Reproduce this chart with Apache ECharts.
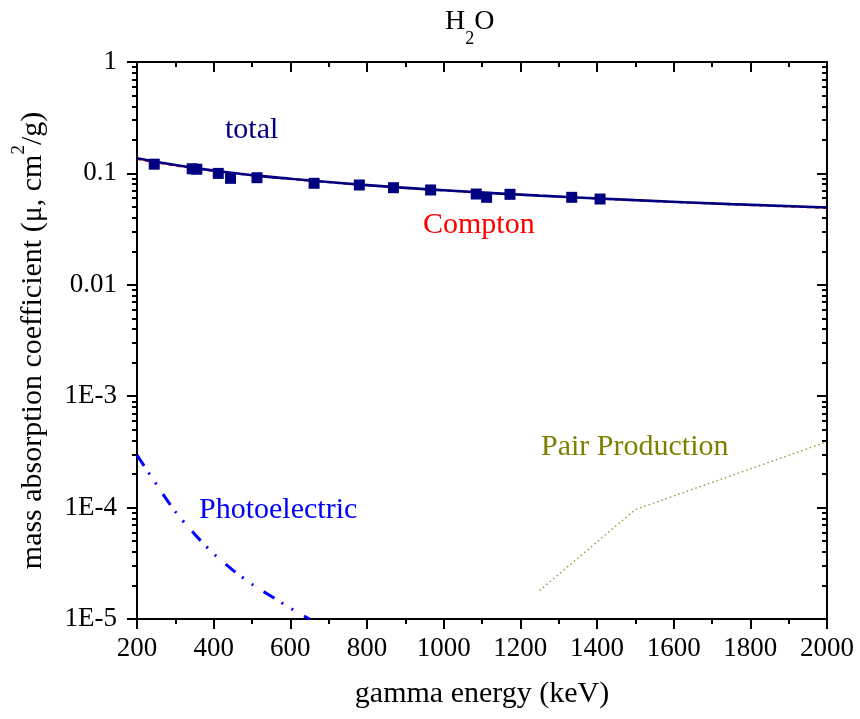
<!DOCTYPE html>
<html><head><meta charset="utf-8">
<script src="https://cdn.jsdelivr.net/npm/echarts@6/dist/echarts.min.js"></script>
<style>html,body{margin:0;padding:0;background:#fff}#c{width:860px;height:719px}</style>
</head><body><div id="c"></div>
<script>
// ---- data ----
const totalEnergy = [200, 300, 400, 500, 600, 800, 1000, 1250, 1500, 1750, 2000];
const totalValues = [0.137, 0.119, 0.106, 0.0965, 0.0895, 0.0785, 0.0705, 0.0632, 0.0575, 0.0530, 0.0494];
const comptonEnergy = [200, 300, 400, 500, 600, 800, 1000, 1250, 1500, 1750, 2000];
const comptonValues = [0.1345, 0.1175, 0.1053, 0.0961, 0.0891, 0.0783, 0.0704, 0.0631, 0.0573, 0.0527, 0.0490];
const photoEnergy = [200, 250, 300, 350, 400, 450, 500, 550, 600, 650];
const photoValues = [2.96e-4, 1.63e-4, 9.2e-5, 5.8e-5, 3.85e-5, 2.75e-5, 2.05e-5, 1.6e-5, 1.25e-5, 1.0e-5];
const pairEnergy = [1250, 1500, 2000];
const pairValues = [1.8e-5, 9.6e-5, 3.9e-4];
const measEnergy = [245, 344, 356, 412, 444, 513, 662, 780, 869, 966, 1085, 1112, 1173, 1334, 1408];
const measValues = [0.121, 0.110, 0.109, 0.100, 0.0903, 0.0915, 0.0815, 0.0787, 0.0744, 0.0710, 0.0653, 0.0610, 0.0649, 0.0610, 0.0589];
const xTickValues = [200, 400, 600, 800, 1000, 1200, 1400, 1600, 1800, 2000];
const xTickLabels = ['200', '400', '600', '800', '1000', '1200', '1400', '1600', '1800', '2000'];
const xMinorValues = [300, 500, 700, 900, 1100, 1300, 1500, 1700, 1900];
const yTickLabels = ['1E-5', '1E-4', '1E-3', '0.01', '0.1', '1'];
const yMajorValues = [1e-5, 1e-4, 1e-3, 1e-2, 1e-1, 1];
const yMinorValues = [];
for (let e = -5; e < 0; e++) for (let m = 2; m <= 9; m++) yMinorValues.push(+(m * Math.pow(10, e)).toPrecision(3));

const zip = (a, b) => a.map((v, i) => [v, b[i]]);
const FONT = 'Liberation Serif';
const AX = { color: '#000', width: 2 };

const chart = echarts.init(document.getElementById('c'));
const xBase = { type: 'value', min: 200, max: 2000, interval: 200, splitLine: { show: false } };
const yBase = { type: 'log', logBase: 10, min: 1e-5, max: 1, splitLine: { show: false } };

chart.setOption({
  animation: false,
  backgroundColor: '#fff',
  grid: { left: 137, right: 33, top: 62, bottom: 100, containLabel: false },
  xAxis: [
    Object.assign({}, xBase, {
      position: 'bottom',
      name: 'gamma energy (keV)', nameLocation: 'middle', nameGap: 60,
      nameTextStyle: { fontFamily: FONT, fontSize: 30, color: '#000' },
      axisLine: { show: true, lineStyle: AX },
      axisTick: { show: true, length: 10, lineStyle: AX, customValues: xTickValues },
      axisLabel: { show: true, margin: 16, fontFamily: FONT, fontSize: 27, color: '#000', customValues: xTickValues,
        formatter: v => xTickLabels[xTickValues.indexOf(Math.round(v))] }
    }),
    Object.assign({}, xBase, {
      position: 'top',
      axisLine: { show: true, lineStyle: AX },
      axisTick: { show: true, inside: true, length: 10, lineStyle: AX, customValues: xTickValues },
      axisLabel: { show: false }
    }),
    Object.assign({}, xBase, {
      position: 'bottom',
      axisLine: { show: false },
      axisTick: { show: true, length: 5, lineStyle: AX, customValues: xMinorValues },
      axisLabel: { show: false }
    }),
    Object.assign({}, xBase, {
      position: 'top',
      axisLine: { show: false },
      axisTick: { show: true, inside: true, length: 5, lineStyle: AX, customValues: xMinorValues },
      axisLabel: { show: false }
    })
  ],
  yAxis: [
    Object.assign({}, yBase, {
      position: 'left',
      name: '{n|mass absorption coefficient (\u03bc, cm}{s|2}{n|/g)}',
      nameLocation: 'middle', nameRotate: 90, nameGap: 89,
      nameTextStyle: {
        color: '#000',
        rich: {
          n: { fontFamily: FONT, fontSize: 30, height: 30, lineHeight: 38, verticalAlign: 'bottom', color: '#000' },
          s: { fontFamily: FONT, fontSize: 19, height: 19, lineHeight: 38, verticalAlign: 'top', color: '#000' }
        }
      },
      axisLine: { show: true, lineStyle: AX },
      axisTick: { show: true, length: 10, lineStyle: AX, customValues: yMajorValues },
      axisLabel: {
        show: true, margin: 20, fontFamily: FONT, fontSize: 27, color: '#000',
        customValues: yMajorValues,
        formatter: v => yTickLabels[Math.round(Math.log10(v)) + 5]
      }
    }),
    Object.assign({}, yBase, {
      position: 'right',
      axisLine: { show: true, lineStyle: AX },
      axisTick: { show: true, inside: true, length: 10, lineStyle: AX, customValues: yMajorValues },
      axisLabel: { show: false }
    }),
    Object.assign({}, yBase, {
      position: 'left',
      axisLine: { show: false },
      axisTick: { show: true, length: 5, lineStyle: AX, customValues: yMinorValues },
      axisLabel: { show: false }
    }),
    Object.assign({}, yBase, {
      position: 'right',
      axisLine: { show: false },
      axisTick: { show: true, inside: true, length: 5, lineStyle: AX, customValues: yMinorValues },
      axisLabel: { show: false }
    })
  ],
  graphic: [
    { type: 'text', left: 445, top: 8, z: 100,
      style: { text: '{a|H}{b|2}{a|O}', fill: '#000',
        rich: {
          a: { fontFamily: FONT, fontSize: 28, height: 28, lineHeight: 40, verticalAlign: 'top', fill: '#000' },
          b: { fontFamily: FONT, fontSize: 18, height: 18, lineHeight: 40, verticalAlign: 'bottom', fill: '#000' }
        } } },
    { type: 'text', x: 225, y: 130, z: 100, style: { text: 'total', fill: '#000080', font: '30px "Liberation Serif"', verticalAlign: 'middle' } },
    { type: 'text', x: 423, y: 225, z: 100, style: { text: 'Compton', fill: '#ff0000', font: '30px "Liberation Serif"', verticalAlign: 'middle' } },
    { type: 'text', x: 199, y: 510, z: 100, style: { text: 'Photoelectric', fill: '#0000ff', font: '30px "Liberation Serif"', verticalAlign: 'middle' } },
    { type: 'text', x: 541, y: 447, z: 100, style: { text: 'Pair Production', fill: '#808000', font: '30px "Liberation Serif"', verticalAlign: 'middle' } }
  ],
  series: [
    { name: 'Compton', type: 'line', data: zip(comptonEnergy, comptonValues), smooth: true, showSymbol: false,
      lineStyle: { color: '#ff0000', width: 2, type: [4, 4] }, z: 2 },
    { name: 'total', type: 'line', data: zip(totalEnergy, totalValues), smooth: true, showSymbol: false,
      lineStyle: { color: '#000080', width: 2.6 }, z: 3 },
    { name: 'Photoelectric', type: 'line', data: zip(photoEnergy, photoValues), smooth: 0.3, showSymbol: false,
      lineStyle: { color: '#0000ff', width: 3, type: [13, 8, 2, 10, 2, 12], cap: 'butt' }, z: 2 },
    { name: 'Pair Production', type: 'line', data: zip(pairEnergy, pairValues), showSymbol: false,
      lineStyle: { color: '#8f8f30', width: 1.3, type: [1.5, 3] }, z: 2 },
    { name: 'measured', type: 'scatter', data: zip(measEnergy, measValues), symbol: 'rect', symbolSize: 11,
      itemStyle: { color: '#000080', opacity: 1 }, z: 4 }
  ]
});
</script></body></html>
